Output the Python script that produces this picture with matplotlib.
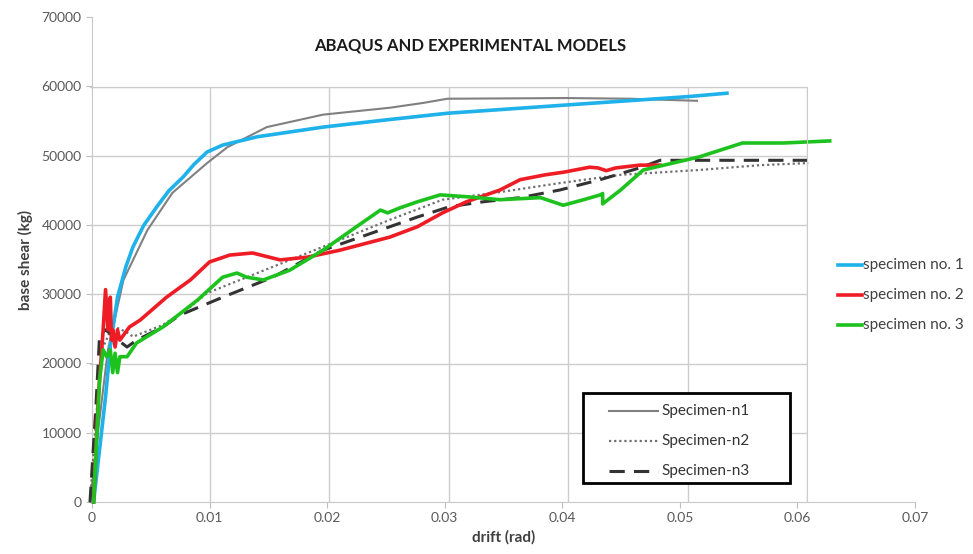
import matplotlib.pyplot as plt

plt.rcParams['font.family'] = ['Lato', 'DejaVu Sans']

# numerical (ABAQUS) curves
n1_x = [0, 0.0008, 0.0015, 0.0028, 0.0048, 0.0069, 0.0098, 0.0115, 0.0148, 0.0195,
        0.0251, 0.0279, 0.0299, 0.0399, 0.0452, 0.0508]
n1_y = [0, 12000, 22000, 32100, 39300, 44700, 49000, 51300, 54200, 56000,
        57000, 57700, 58300, 58400, 58300, 58000]

n2_x = [0, 0.0005, 0.001, 0.0019, 0.0031, 0.0036, 0.0061, 0.0084, 0.0098, 0.014, 0.0195,
        0.0251, 0.0295, 0.0343, 0.0393, 0.0444, 0.051, 0.0561, 0.0601]
n2_y = [0, 12000, 22000, 25500, 24500, 23900, 25600, 28200, 30200, 33100, 36900,
        40800, 43700, 44800, 46100, 47300, 48000, 48700, 49000]

n3_x = [0, 0.0005, 0.0008, 0.0013, 0.0022, 0.0031, 0.0039, 0.0061, 0.0075, 0.0111, 0.0153,
        0.0195, 0.0251, 0.0274, 0.0301, 0.0329, 0.036, 0.0393, 0.0427, 0.046, 0.0477, 0.0601]
n3_y = [0, 14000, 24000, 24900, 23600, 22400, 23400, 25300, 27000, 29600, 32500,
        36400, 39800, 41200, 42700, 43400, 44000, 45100, 46600, 48300, 49400, 49400]

# experimental curves
s1_x = [0.0003, 0.0013, 0.0017, 0.0023, 0.003, 0.0036, 0.0045, 0.0056, 0.0066, 0.0078,
        0.0087, 0.0098, 0.0111, 0.014, 0.0195, 0.0251, 0.0299, 0.0399, 0.05, 0.0533]
s1_y = [0, 15200, 22500, 29600, 34000, 36900, 40000, 42700, 45000, 47000,
        48800, 50600, 51600, 52800, 54200, 55300, 56200, 57400, 58600, 59100]

s2_x = [0.0003, 0.0007, 0.0011, 0.0013, 0.0015, 0.0017, 0.0018, 0.0019, 0.0021, 0.0023,
        0.0025, 0.0033, 0.0042, 0.0064, 0.0084, 0.010, 0.0117, 0.0136, 0.0159, 0.0182,
        0.0209, 0.0251, 0.0274, 0.0295, 0.0315, 0.0343, 0.036, 0.0381, 0.0397, 0.0418,
        0.0425, 0.0432, 0.044, 0.046, 0.0477]
s2_y = [0, 15200, 24900, 30700, 24900, 29600, 23400, 24900, 22400, 24900,
        23400, 25300, 26300, 29600, 32100, 34700, 35700, 36000, 35000, 35400,
        36400, 38300, 39800, 41800, 43400, 45100, 46600, 47300, 47700, 48400,
        48300, 47900, 48300, 48700, 48700]

s3_x = [0.0003, 0.0008, 0.0011, 0.0014, 0.0017, 0.0019, 0.0021, 0.0023, 0.0025, 0.0028,
        0.0031, 0.0039, 0.0061, 0.009, 0.0111, 0.0123, 0.0131, 0.0145, 0.0167, 0.0195,
        0.0223, 0.0243, 0.0249, 0.0259, 0.0274, 0.0293, 0.0318, 0.0343, 0.0377, 0.0396,
        0.0413, 0.0427, 0.0429, 0.0429, 0.0444, 0.0463, 0.051, 0.0546, 0.0555, 0.058, 0.0619]
s3_y = [0, 17600, 22000, 21000, 22000, 18700, 21500, 18700, 21000, 21000,
        21000, 23000, 25300, 29200, 32500, 33100, 32500, 32100, 33500, 36400,
        39800, 42200, 41800, 42500, 43400, 44400, 44100, 43700, 44000, 42900,
        43700, 44400, 44600, 43100, 45100, 48000, 49900, 51900, 51900, 51900, 52200]

xticks = [0, 0.01, 0.02, 0.03, 0.04, 0.05, 0.06, 0.07]
xticklabels = ['0', '0.01', '0.02', '0.03', '0.04', '0.05', '0.06', '0.07']
yticks = [0, 10000, 20000, 30000, 40000, 50000, 60000, 70000]

fig = plt.figure(figsize=(9.73, 5.54), dpi=100)

# outer chart: only the axes, ticks and labels
outer = fig.add_axes([0.0946, 0.0939, 0.8458, 0.8755])
outer.set_xlim(0, 0.07)
outer.set_ylim(0, 70000)
outer.set_xticks(xticks)
outer.set_xticklabels(xticklabels)
outer.set_yticks(yticks)
outer.tick_params(colors='#bfbfbf', labelcolor='#595959', labelsize=10, length=4)
for s in ['top', 'right']:
    outer.spines[s].set_visible(False)
for s in ['left', 'bottom']:
    outer.spines[s].set_color('#c8c8c8')
outer.set_xlabel('drift (rad)', fontsize=11, fontweight='bold', color='#404040', labelpad=4)
outer.set_ylabel('base shear (kg)', fontsize=11, fontweight='bold', color='#404040', labelpad=6)
outer.patch.set_alpha(0)

# inner chart with the curves and the grid
ax = fig.add_axes([0.0925, 0.0939, 0.7369, 0.7491])
ax.set_xlim(0, 0.06)
ax.set_ylim(0, 60000)
ax.set_xticks(xticks[1:7])
ax.set_yticks(yticks[1:7])
ax.tick_params(length=0, labelbottom=False, labelleft=False)
ax.grid(True, color='#cccccc', linewidth=1)
for s in ['left', 'bottom']:
    ax.spines[s].set_visible(False)
for s in ['top', 'right']:
    ax.spines[s].set_color('#cccccc')
ax.patch.set_alpha(0)

ax.plot(n1_x, n1_y, color='#808080', lw=1.5, clip_on=False)
ax.plot(n2_x, n2_y, color='#707070', lw=1.6, ls=(0, (1, 1.3)), clip_on=False)
ax.plot(n3_x, n3_y, color='#333333', lw=2.2, ls=(0, (5, 3)), clip_on=False)
ax.plot(s1_x, s1_y, color='#1eb1ea', lw=2.6, clip_on=False)
ax.plot(s2_x, s2_y, color='#ee1c24', lw=2.6, clip_on=False)
ax.plot(s3_x, s3_y, color='#1ec21e', lw=2.6, clip_on=False)

fig.text(0.483, 0.918, 'ABAQUS AND EXPERIMENTAL MODELS', ha='center', va='center',
         fontsize=12, fontweight='bold', color='#1a1a1a')

# legend for experimental specimens (right side)
leg_colors = ['#1eb1ea', '#ee1c24', '#1ec21e']
leg_names = ['specimen no. 1', 'specimen no. 2', 'specimen no. 3']
for i, (c, n) in enumerate(zip(leg_colors, leg_names)):
    yy = 1 - (265 + 30 * i) / 554
    fig.add_artist(plt.Line2D([838 / 973, 862 / 973], [yy, yy], color=c, lw=2.6))
    fig.text(863 / 973, yy, n, va='center', ha='left', fontsize=11, color='#404040')

# legend box for numerical models
fig.add_artist(plt.Rectangle((583 / 973, 1 - 483 / 554), 207 / 973, 90 / 554,
                             fill=True, facecolor='white', edgecolor='black', lw=2))
n_styles = [('#808080', '-', 1.5), ('#707070', (0, (1, 1.3)), 1.6), ('#333333', (0, (5, 3)), 2.2)]
n_names = ['Specimen-n1', 'Specimen-n2', 'Specimen-n3']
for i, ((c, ls, lw), n) in enumerate(zip(n_styles, n_names)):
    yy = 1 - (411 + 30 * i) / 554
    fig.add_artist(plt.Line2D([609 / 973, 658 / 973], [yy, yy], color=c, ls=ls, lw=lw))
    fig.text(661 / 973, yy, n, va='center', ha='left', fontsize=11, color='#333333')

fig.savefig('out.png', dpi=100)
